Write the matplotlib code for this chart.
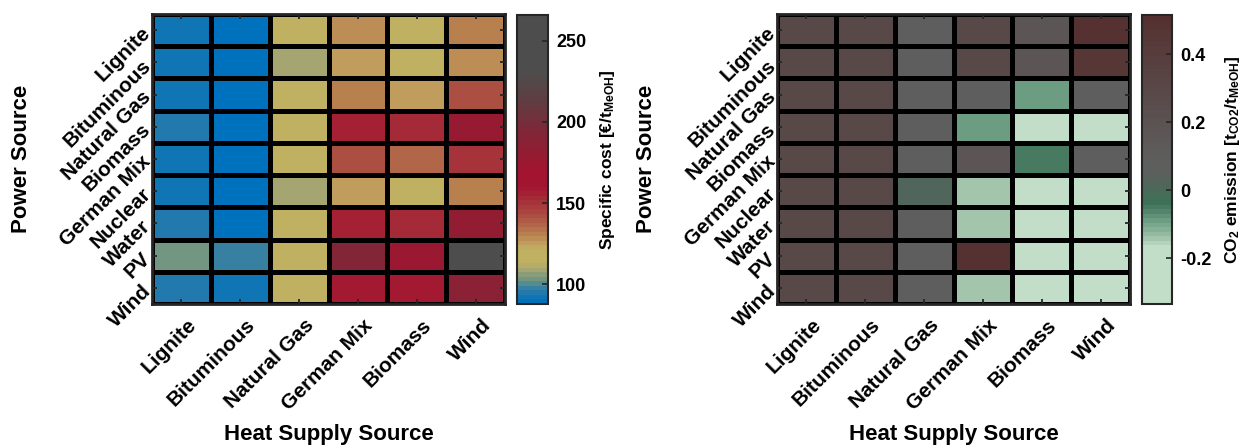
import matplotlib
matplotlib.use("Agg")
import matplotlib.pyplot as plt
import matplotlib.transforms as mtransforms
import numpy as np
from matplotlib.colors import LinearSegmentedColormap

plt.rcParams["font.family"] = ["Liberation Sans", "DejaVu Sans"]
plt.rcParams["font.weight"] = "bold"
plt.rcParams["mathtext.fontset"] = "custom"
plt.rcParams["mathtext.rm"] = "Liberation Sans:bold"
plt.rcParams["mathtext.bf"] = "Liberation Sans:bold"
plt.rcParams["mathtext.default"] = "bf"

power_sources = ["Lignite", "Bituminous", "Natural Gas", "Biomass", "German Mix",
                 "Nuclear", "Water", "PV", "Wind"]
heat_sources = ["Lignite", "Bituminous", "Natural Gas", "German Mix", "Biomass", "Wind"]

# specific methanol cost in EUR/t, rows = power source, cols = heat source
cost_lignite = [92, 88, 115, 128, 118, 132]
cost_bituminous = [92, 88, 109, 125, 118, 128]
cost_natgas = [92, 88, 115, 132, 125, 141]
cost_biomass = [96, 88, 115, 155, 152, 178]
cost_germanmix = [92, 88, 115, 142, 136, 150]
cost_nuclear = [92, 88, 109, 125, 118, 132]
cost_water = [96, 88, 115, 157, 152, 180]
cost_pv = [102, 98, 115, 192, 175, 240]
cost_wind = [96, 92, 115, 160, 158, 186]

# CO2 emission in t_CO2/t_MeOH
co2_lignite = [0.30, 0.30, 0.08, 0.30, 0.18, 0.50]
co2_bituminous = [0.30, 0.30, 0.08, 0.30, 0.18, 0.45]
co2_natgas = [0.30, 0.30, 0.08, 0.08, -0.09, 0.08]
co2_biomass = [0.30, 0.30, 0.08, -0.09, -0.30, -0.30]
co2_germanmix = [0.30, 0.30, 0.08, 0.18, -0.05, 0.08]
co2_nuclear = [0.30, 0.30, 0.02, -0.14, -0.30, -0.30]
co2_water = [0.30, 0.30, 0.08, -0.14, -0.30, -0.30]
co2_pv = [0.30, 0.30, 0.08, 0.50, -0.30, -0.30]
co2_wind = [0.30, 0.30, 0.08, -0.14, -0.30, -0.30]

cost = np.array([cost_lignite, cost_bituminous, cost_natgas, cost_biomass, cost_germanmix,
                 cost_nuclear, cost_water, cost_pv, cost_wind])
co2 = np.array([co2_lignite, co2_bituminous, co2_natgas, co2_biomass, co2_germanmix,
                co2_nuclear, co2_water, co2_pv, co2_wind])

cost_lim = (87.7, 266.0)
co2_lim = (-0.335, 0.515)


def make_cmap(name, nodes, lim):
    lo, hi = lim
    stops = [((v - lo) / (hi - lo), c) for v, c in nodes]
    return LinearSegmentedColormap.from_list(name, stops, N=64)


cost_cmap = make_cmap("cost", [
    (87.7, "#0072BD"), (95, "#2A7BA8"), (101, "#6A9484"), (108, "#A8A66E"),
    (112, "#BFB062"), (121, "#BFB062"), (125, "#C09A5C"), (130, "#B8804F"),
    (137, "#B06048"), (146, "#A83E3E"), (160, "#A2142F"), (170, "#A2142F"),
    (195, "#7E2838"), (215, "#5E3E42"), (232, "#4D4D4D"), (266, "#4D4D4D"),
], cost_lim)

co2_cmap = make_cmap("co2", [
    (-0.335, "#C2DEC8"), (-0.17, "#C2DEC8"), (-0.14, "#9ABFA5"), (-0.09, "#6A9A80"),
    (-0.04, "#3E7058"), (0.0, "#4A6A58"), (0.04, "#5A605C"), (0.08, "#5E5E5E"),
    (0.15, "#5D5858"), (0.22, "#5B5050"), (0.30, "#594848"), (0.40, "#583D3D"),
    (0.45, "#573838"), (0.515, "#552F2F"),
], co2_lim)

fig = plt.figure(figsize=(12.48, 4.46), dpi=100)
W, H = 1248, 446


def px_axes(x0, y0, x1, y1):
    return fig.add_axes([x0 / W, 1 - y1 / H, (x1 - x0) / W, (y1 - y0) / H])


def heatmap(ax, data, cmap, lim):
    nr, nc = data.shape
    mesh = ax.pcolormesh(data, cmap=cmap, vmin=lim[0], vmax=lim[1],
                         edgecolors="k", linewidth=2.5)
    ax.set_xlim(0, nc)
    ax.set_ylim(nr, 0)
    ax.set_xticks(np.arange(nc) + 0.5)
    ax.set_yticks(np.arange(nr) + 0.5)
    ax.set_xticklabels(heat_sources, rotation=45, ha="right", va="center",
                       rotation_mode="anchor", fontsize=15, fontweight="bold")
    ax.set_yticklabels(power_sources, rotation=45, ha="right", va="center",
                       rotation_mode="anchor", fontsize=15, fontweight="bold")
    ax.tick_params(direction="in", length=3.5, width=1.3, color="#262626",
                   top=True, right=True, pad=3)
    off = mtransforms.ScaledTranslation(12 / 100, -14 / 100, fig.dpi_scale_trans)
    for lab in ax.get_xticklabels():
        lab.set_transform(lab.get_transform() + off)
    for s in ax.spines.values():
        s.set_linewidth(2)
        s.set_color("#262626")
    ax.set_xlabel("Heat Supply Source", fontsize=16, fontweight="bold")
    ax.set_ylabel("Power Source", fontsize=16, fontweight="bold")
    ax.xaxis.set_label_coords(0.5, -0.415)
    ax.yaxis.set_label_coords(-0.34, 0.5)
    return mesh


def colorbar(mesh, cax, ticks, labels, title):
    cb = fig.colorbar(mesh, cax=cax)
    cb.set_ticks(ticks)
    cb.set_ticklabels(labels)
    cb.ax.tick_params(direction="in", length=4, width=1.2, color="#262626",
                      labelsize=13, pad=6)
    for t in cb.ax.get_yticklabels():
        t.set_fontweight("bold")
    cb.outline.set_linewidth(1.5)
    cb.outline.set_edgecolor("#262626")
    cb.set_label(title, fontsize=12.5, fontweight="bold", labelpad=8)
    return cb


ax1 = px_axes(152, 14, 505, 304)
cax1 = px_axes(517, 15, 548, 304)
ax2 = px_axes(777, 14, 1130, 304)
cax2 = px_axes(1142, 15, 1172, 304)

m1 = heatmap(ax1, cost, cost_cmap, cost_lim)
colorbar(m1, cax1, [100, 150, 200, 250], ["100", "150", "200", "250"],
         r"Specific cost [€/t$_{MeOH}$]")

m2 = heatmap(ax2, co2, co2_cmap, co2_lim)
colorbar(m2, cax2, [-0.2, 0, 0.2, 0.4], ["-0.2", "0", "0.2", "0.4"],
         r"CO$_{2}$ emission [t$_{CO2}$/t$_{MeOH}$]")

fig.savefig("out.png", dpi=100)
